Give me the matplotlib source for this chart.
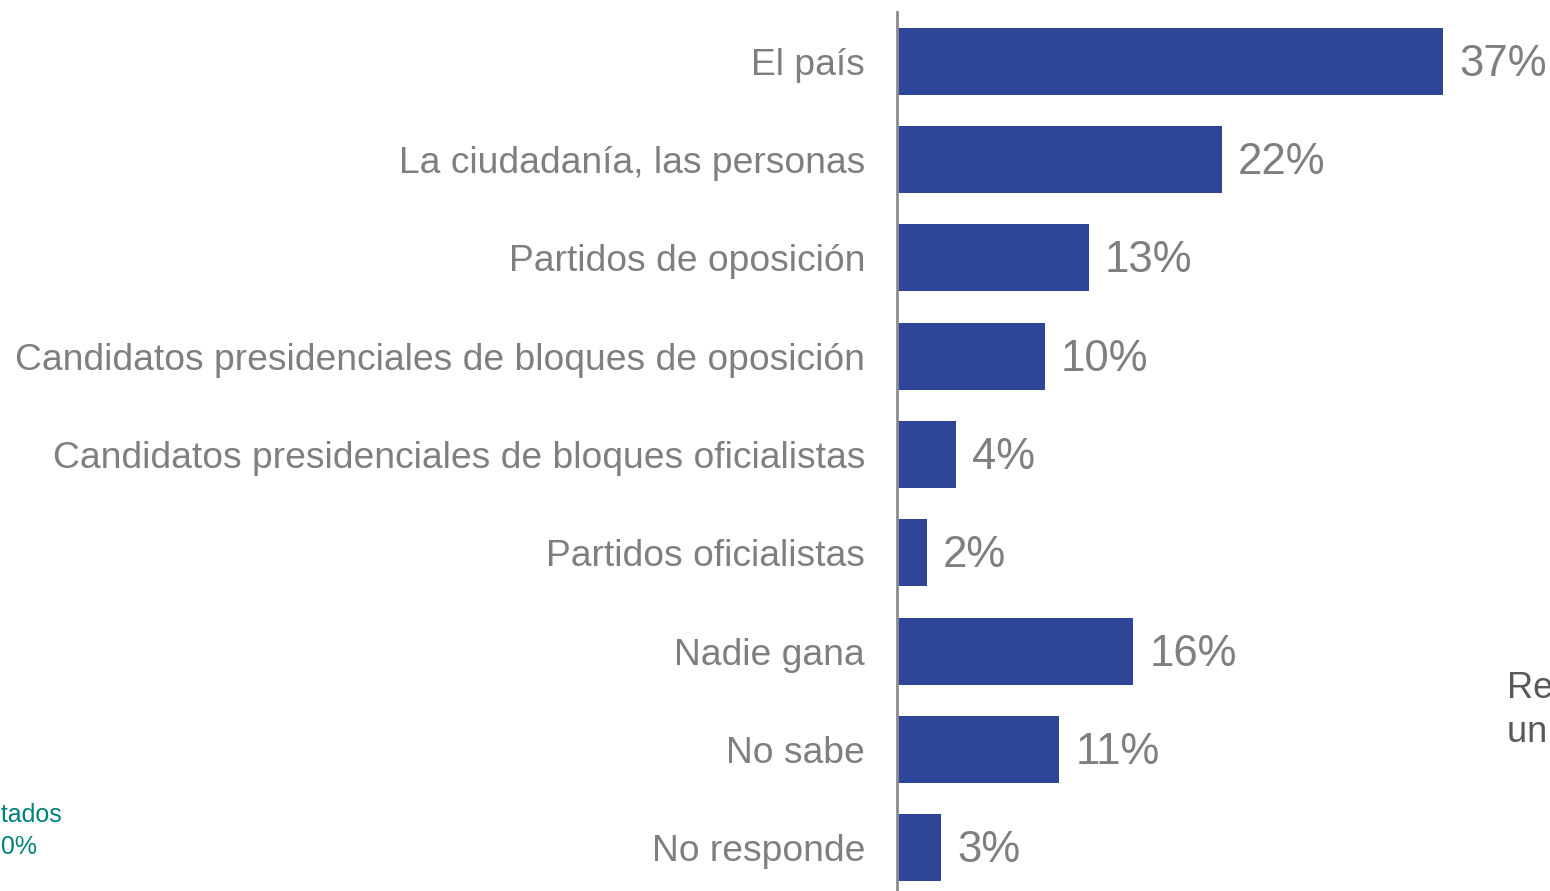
import matplotlib.pyplot as plt

plt.rcParams['font.family'] = ['Liberation Sans', 'DejaVu Sans']

# Data
categories = [
    'El país',
    'La ciudadanía, las personas',
    'Partidos de oposición',
    'Candidatos presidenciales de bloques de oposición',
    'Candidatos presidenciales de bloques oficialistas',
    'Partidos oficialistas',
    'Nadie gana',
    'No sabe',
    'No responde',
]
values = [37, 22, 13, 10, 4, 2, 16, 11, 3]
value_labels = ['37%', '22%', '13%', '10%', '4%', '2%', '16%', '11%', '3%']

W, H = 1550, 891
fig = plt.figure(figsize=(W / 100, H / 100), dpi=100)
ax = fig.add_axes([897 / W, -6 / H, 653 / W, 885 / H])

bar_color = '#2E4598'
label_color = '#7F7F7F'

ypos = list(range(len(categories)))
ax.barh(ypos, values, height=0.68, color=bar_color, zorder=2)
ax.set_xlim(0, 653 / 14.75)
ax.set_ylim(len(categories) - 0.5, -0.5)

for y, v, lab in zip(ypos, values, value_labels):
    ax.text(v + 1.1, y + 0.03, lab, va='center', ha='left', fontsize=31.5,
            color=label_color)

ax.set_yticks(ypos)
ax.set_yticklabels(categories, fontsize=26.8, color=label_color)
ax.tick_params(axis='y', length=0, pad=23)
ax.set_xticks([])
for side in ['top', 'right', 'bottom']:
    ax.spines[side].set_visible(False)
ax.spines['left'].set_color('#8C8C8C')
ax.spines['left'].set_linewidth(2)

# Side notes, cut off by the figure edges as in the source
fig.text(62 / W, 1 - 815 / H, 'Resultados', ha='right', va='center',
         fontsize=18, color='#00807A')
fig.text(37 / W, 1 - 847 / H, '100%', ha='right', va='center',
         fontsize=18, color='#00807A')
fig.text(1507 / W, 1 - 688 / H, 'Respuesta', ha='left', va='center',
         fontsize=26, color='#595959')
fig.text(1507 / W, 1 - 733 / H, 'un solo', ha='left', va='center',
         fontsize=26, color='#595959')

fig.savefig('out.png', dpi=100)
